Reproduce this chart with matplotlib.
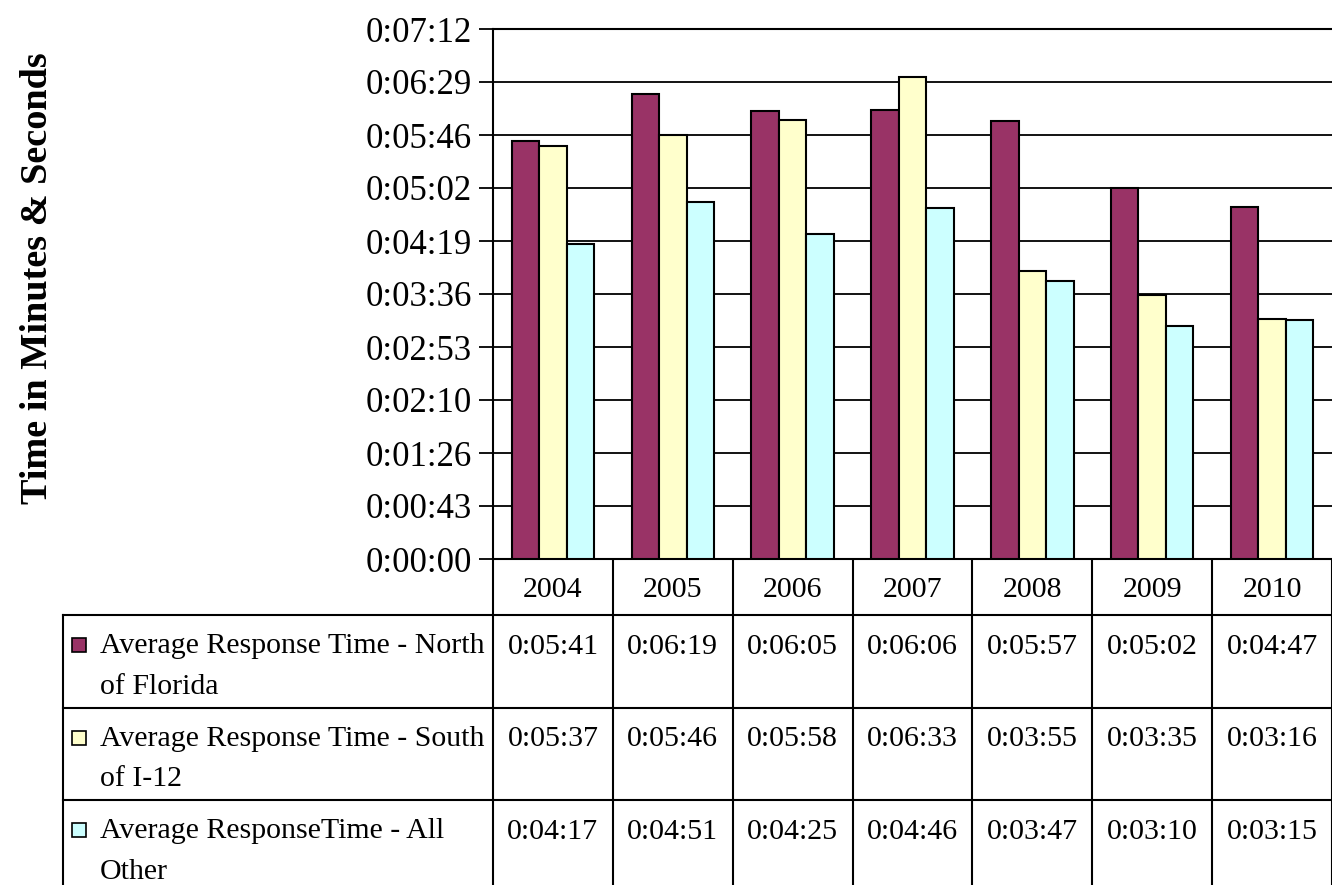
import numpy as np
import matplotlib
matplotlib.use("Agg")
import matplotlib.pyplot as plt
from matplotlib.ticker import FuncFormatter
from matplotlib.transforms import blended_transform_factory
from matplotlib.patches import Rectangle

plt.rcParams["font.family"] = ["Liberation Serif", "DejaVu Serif"]

# Response times in seconds
years = ["2004", "2005", "2006", "2007", "2008", "2009", "2010"]
north = [341, 379, 365, 366, 357, 302, 287]
south = [337, 346, 358, 393, 235, 215, 196]
other = [257, 291, 265, 286, 227, 190, 195]
series_names = [
    ("Average Response Time - North", "of Florida"),
    ("Average Response Time - South", "of I-12"),
    ("Average ResponseTime - All", "Other"),
]
colors = ["#993366", "#FFFFCC", "#CCFFFF"]


def hms(sec, pos=None):
    s = int(round(sec))
    return "%d:%02d:%02d" % (s // 3600, (s % 3600) // 60, s % 60)


W, H = 1332, 885
fig = plt.figure(figsize=(W / 100, H / 100), dpi=100)
ax = fig.add_axes([493 / W, 1 - 559 / H, 1 - 493 / W, (559 - 29) / H])

x = np.arange(len(years))
bw = 0.229
for i, vals in enumerate([north, south, other]):
    ax.bar(x + (i - 1) * bw, vals, width=bw, color=colors[i],
           edgecolor="black", linewidth=1.5, zorder=3)

ax.set_xlim(-0.5, len(years) - 0.5)
ax.set_ylim(0, 432)
ax.set_yticks(np.arange(0, 433, 43.2))
ax.yaxis.set_major_formatter(FuncFormatter(hms))
ax.set_xticks([])
ax.tick_params(axis="y", direction="out", length=10, width=1.3,
               labelsize=25, pad=5)
ax.grid(axis="y", color="black", linewidth=1.3, zorder=0)
ax.spines["right"].set_visible(False)
for s in ["left", "bottom", "top"]:
    ax.spines[s].set_linewidth(1.5)

fig.text(38 / W, 1 - 278 / H, "Time in Minutes & Seconds", rotation=90,
         fontsize=27.5, fontweight="bold", ha="center", va="center")

# Data table below the plot, in pixel coordinates
tab = fig.add_axes([0, 0, 1, 1], zorder=-1)
tab.set_xlim(0, W)
tab.set_ylim(H, 0)
tab.axis("off")
tr = blended_transform_factory(ax.transData, tab.transData)

lw = 1.5
fs = 21.5
row_tops = [615, 707.5, 800]
edges = np.arange(len(years) + 1) - 0.5

# header row with the years
for e in edges:
    tab.plot([e, e], [559, H], color="black", lw=lw, transform=tr, clip_on=False)
for xi, yr in zip(x, years):
    tab.text(xi, 597, yr, transform=tr, ha="center", va="baseline", fontsize=fs)

# horizontal row lines, starting from the legend column
for yt in row_tops:
    tab.plot([63, W], [yt, yt], color="black", lw=lw)
tab.plot([63, 63], [row_tops[0], H], color="black", lw=lw)

for r, vals in enumerate([north, south, other]):
    top = row_tops[r]
    tab.add_patch(Rectangle((72, top + 23), 14, 14, facecolor=colors[r],
                            edgecolor="black", lw=1.2))
    first, second = series_names[r]
    tab.text(100, top + 38, first, ha="left", va="baseline", fontsize=fs)
    tab.text(100, top + 79, second, ha="left", va="baseline", fontsize=fs)
    for xi, v in zip(x, vals):
        tab.text(xi, top + 39, hms(v), transform=tr, ha="center",
                 va="baseline", fontsize=fs)

fig.savefig("out.png", dpi=100)
